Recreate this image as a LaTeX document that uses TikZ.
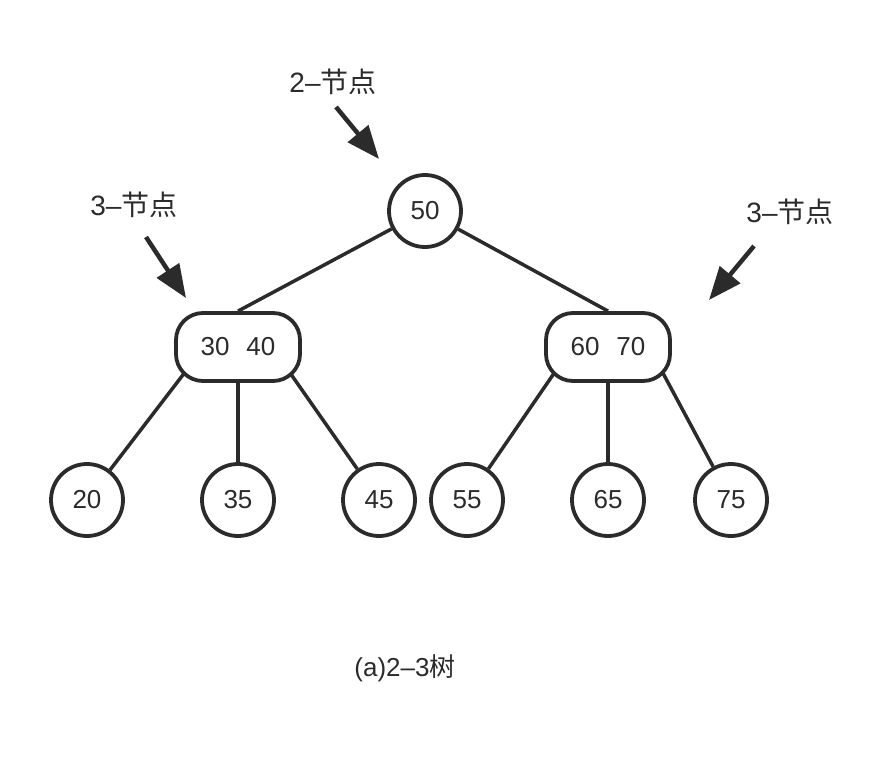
\documentclass[tikz,border=0pt]{standalone}
\usepackage{fontspec}
\setmainfont{Liberation Sans}
\newfontfamily\cjk{Noto Sans CJK SC}
\usetikzlibrary{arrows.meta,calc,backgrounds}
\definecolor{ink}{HTML}{2B2B2B}
\tikzset{
  leaf/.style={circle,draw=ink,line width=3.8pt,fill=white,minimum size=72pt,inner sep=0pt,font=\fontsize{26}{30}\selectfont,text=ink},
  pair/.style={rectangle,rounded corners=27pt,draw=ink,line width=3.8pt,fill=white,minimum width=124pt,minimum height=68pt,inner sep=0pt,font=\fontsize{26}{30}\selectfont,text=ink},
  link/.style={draw=ink,line width=3.5pt},
  pointer/.style={draw=ink,line width=4.5pt,-{Triangle[length=33pt,width=26pt]}},
  lbl/.style={font=\fontsize{28}{32}\selectfont,text=ink,inner sep=0pt},
  captext/.style={font=\fontsize{26}{30}\selectfont,text=ink,inner sep=0pt},
}
\begin{document}
\begin{tikzpicture}[x=1pt,y=-1pt]
\useasboundingbox (0,0) rectangle (896,760);
\node[leaf] (n50) at (425,211) {50};
\node[pair] (L) at (238,347) {30\hspace{17pt}40};
\node[pair] (R) at (608,347) {60\hspace{17pt}70};
\node[leaf] (n20) at (87,500) {20};
\node[leaf] (n35) at (238,500) {35};
\node[leaf] (n45) at (379,500) {45};
\node[leaf] (n55) at (467,500) {55};
\node[leaf] (n65) at (608,500) {65};
\node[leaf] (n75) at (731,500) {75};
\begin{scope}[on background layer]
\draw[link] (n50) -- (L.north);
\draw[link] (n50) -- (R.north);
\draw[link] ($(L.center)+(-36,3)$) -- (n20);
\draw[link] (L.center) -- (n35);
\draw[link] ($(L.center)+(36,3)$) -- (n45);
\draw[link] ($(R.center)+(-38,3)$) -- (n55);
\draw[link] (R.center) -- (n65);
\draw[link] ($(R.center)+(49,15)$) -- (n75);
\end{scope}
\node[lbl] (t2) at (333,82) {2–{\cjk 节点}};
\node[lbl] (t3a) at (134,205) {3–{\cjk 节点}};
\node[lbl] (t3b) at (790,212) {3–{\cjk 节点}};
\coordinate (s2) at (336,107);
\coordinate (s3a) at (146,237);
\coordinate (s3b) at (754,246);
\coordinate (h2) at (379,159);
\coordinate (h3a) at (186,298);
\coordinate (h3b) at (709,300);
\draw[pointer] (s2) -- (h2);
\draw[pointer] (s3a) -- (h3a);
\draw[pointer] (s3b) -- (h3b);
\node[captext] (caption) at (405,668) {(a)2–3{\cjk 树}};
\end{tikzpicture}
\end{document}
